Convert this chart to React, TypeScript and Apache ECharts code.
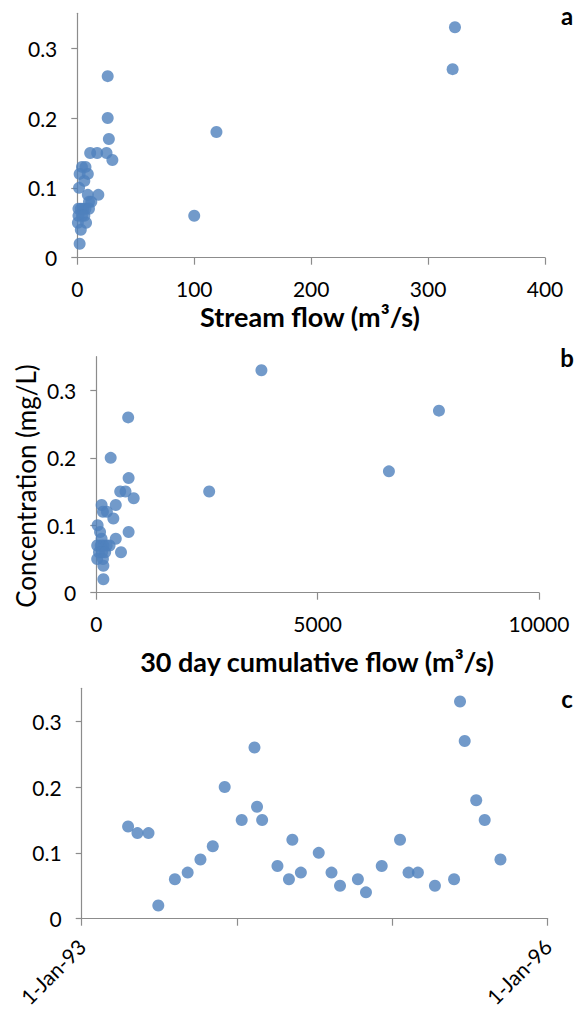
import React, { useEffect, useRef } from "react";
import * as echarts from "echarts";

// Panel a: stream flow (m3/s) vs concentration (mg/L)
const flowA: number[] = [323, 321, 26, 26, 119, 27, 11, 17, 25, 30, 4, 7, 2, 9, 6, 1.5, 9, 18, 12, 10, 1, 3, 5, 7, 10, 1, 4, 6, 100, 0.5, 7.5, 3, 2];
const concA: number[] = [0.33, 0.27, 0.26, 0.2, 0.18, 0.17, 0.15, 0.15, 0.15, 0.14, 0.13, 0.13, 0.12, 0.12, 0.11, 0.1, 0.09, 0.09, 0.08, 0.08, 0.07, 0.07, 0.07, 0.07, 0.07, 0.06, 0.06, 0.06, 0.06, 0.05, 0.05, 0.04, 0.02];

// Panel b: 30 day cumulative flow (m3/s) vs concentration
const cumFlowB: number[] = [3730, 7740, 6610, 2550, 720, 325, 730, 540, 660, 845, 120, 440, 150, 240, 385, 30, 85, 730, 120, 440, 20, 100, 160, 235, 300, 558, 60, 130, 200, 20, 150, 160, 160];
const concB: number[] = [0.33, 0.27, 0.18, 0.15, 0.26, 0.2, 0.17, 0.15, 0.15, 0.14, 0.13, 0.13, 0.12, 0.12, 0.11, 0.1, 0.09, 0.09, 0.08, 0.08, 0.07, 0.07, 0.07, 0.07, 0.07, 0.06, 0.06, 0.06, 0.06, 0.05, 0.05, 0.04, 0.02];

// Panel c: sampling date vs concentration
const datesC: string[] = [
  "1993-04-20", "1993-05-12", "1993-06-07", "1993-06-30", "1993-08-08", "1993-09-07", "1993-10-07", "1993-11-05", "1993-12-03",
  "1994-01-12", "1994-02-11", "1994-02-17", "1994-03-01", "1994-04-06", "1994-05-03", "1994-05-11", "1994-05-31", "1994-07-12",
  "1994-08-11", "1994-08-31", "1994-10-12", "1994-10-31", "1994-12-07",
  "1995-01-19", "1995-02-08", "1995-03-02", "1995-04-11", "1995-05-26", "1995-06-09", "1995-06-20", "1995-07-17", "1995-08-06", "1995-09-12",
];
const concC: number[] = [0.14, 0.13, 0.13, 0.02, 0.06, 0.07, 0.09, 0.11, 0.2, 0.15, 0.26, 0.17, 0.15, 0.08, 0.06, 0.12, 0.07, 0.1, 0.07, 0.05, 0.06, 0.04, 0.08, 0.12, 0.07, 0.07, 0.05, 0.06, 0.33, 0.27, 0.18, 0.15, 0.09];

const yTicks: number[] = [0, 0.1, 0.2, 0.3];
const xTicksA: number[] = [0, 100, 200, 300, 400];
const xTicksB: number[] = [0, 5000, 10000];
const startDate = "1993-01-01";
const endDate = "1996-01-01";
const dateTickLabels: Record<string, string> = { "1993-01-01": "1-Jan-93", "1996-01-01": "1-Jan-96" };

const DAY = 86400000;
const toDays = (d: string) => (Date.parse(d + "T00:00:00Z") - Date.parse(startDate + "T00:00:00Z")) / DAY;

const FONT = "Lato, 'Open Sans', sans-serif";
const AXIS_COLOR = "#8c8c8c";
const DOT = "#4F81BD";

export default function App() {
  const ref = useRef<HTMLDivElement>(null);
  useEffect(() => {
    document.body.style.margin = "0";
    if (!ref.current) return;
    const chart = echarts.init(ref.current, undefined, { renderer: "svg" });
    const endDays = toDays(endDate);
    const yAxisBase = (gridIndex: number) => ({
      type: "value" as const,
      gridIndex,
      min: 0,
      max: 0.35,
      interval: 0.1,
      splitLine: { show: false },
      axisLine: { show: true, lineStyle: { color: AXIS_COLOR, width: 1.2 } },
      axisTick: { show: true, length: 6, lineStyle: { color: AXIS_COLOR, width: 1.2 }, customValues: yTicks },
      axisLabel: {
        customValues: yTicks,
        color: "#000",
        fontFamily: FONT,
        fontSize: 21,
        margin: 20,
        formatter: (v: number) => (v === 0 ? "0" : v.toFixed(1)),
      },
    });
    const xAxisBase = (gridIndex: number) => ({
      type: "value" as const,
      gridIndex,
      splitLine: { show: false },
      axisLine: { show: true, onZero: false, lineStyle: { color: AXIS_COLOR, width: 1.2 } },
      axisTick: { show: true, length: 7, lineStyle: { color: AXIS_COLOR, width: 1.2 } },
      axisLabel: { color: "#000", fontFamily: FONT, fontSize: 21, margin: 20, formatter: (v: number) => String(v) },
    });
    const titleStyle = (text: string, size: number, bold: boolean) => ({
      text,
      fill: "#000",
      font: `${bold ? "bold " : ""}${size}px ${FONT}`,
      textAlign: "center",
      textVerticalAlign: "middle",
    });
    chart.setOption({
      animation: false,
      grid: [
        { left: 77.3, right: 29, top: 13.3, height: 244.4 },
        { left: 96.3, right: 35, top: 356.7, height: 236 },
        { left: 81.7, right: 26.3, top: 688.3, height: 230.4 },
      ],
      xAxis: [
        { ...xAxisBase(0), min: xTicksA[0], max: xTicksA[xTicksA.length - 1], interval: 100 },
        { ...xAxisBase(1), min: xTicksB[0], max: xTicksB[xTicksB.length - 1], interval: 5000 },
        {
          ...xAxisBase(2),
          min: 0,
          max: endDays,
          interval: 365,
          axisLabel: {
            color: "#000",
            fontFamily: FONT,
            fontSize: 21,
            margin: 24,
            rotate: 45,
            formatter: (v: number) => {
              if (v === 0) return dateTickLabels[startDate];
              if (v === endDays) return dateTickLabels[endDate];
              return "";
            },
          },
        },
      ],
      yAxis: [yAxisBase(0), yAxisBase(1), yAxisBase(2)],
      series: [
        {
          type: "scatter",
          xAxisIndex: 0,
          yAxisIndex: 0,
          symbolSize: 12,
          itemStyle: { color: DOT },
          data: flowA.map((f, i) => [f, concA[i]]),
        },
        {
          type: "scatter",
          xAxisIndex: 1,
          yAxisIndex: 1,
          symbolSize: 12,
          itemStyle: { color: DOT },
          data: cumFlowB.map((f, i) => [f, concB[i]]),
        },
        {
          type: "scatter",
          xAxisIndex: 2,
          yAxisIndex: 2,
          symbolSize: 12,
          itemStyle: { color: DOT },
          data: datesC.map((d, i) => [toDays(d), concC[i]]),
        },
      ],
      graphic: [
        { type: "text", x: 310, y: 316, style: titleStyle("Stream flow (m³/s)", 27, true) },
        { type: "text", x: 317, y: 661, style: titleStyle("30 day cumulative flow (m³/s)", 27, true) },
        { type: "text", x: 26, y: 486, rotation: Math.PI / 2, style: titleStyle("Concentration (mg/L)", 26, false) },
        { type: "text", x: 567, y: 15, style: titleStyle("a", 24, true) },
        { type: "text", x: 567, y: 357, style: titleStyle("b", 24, true) },
        { type: "text", x: 567, y: 698, style: titleStyle("c", 24, true) },
      ],
    });
    return () => chart.dispose();
  }, []);
  return <div ref={ref} style={{ position: "absolute", left: 0, top: 0, width: 574, height: 1011 }} />;
}
